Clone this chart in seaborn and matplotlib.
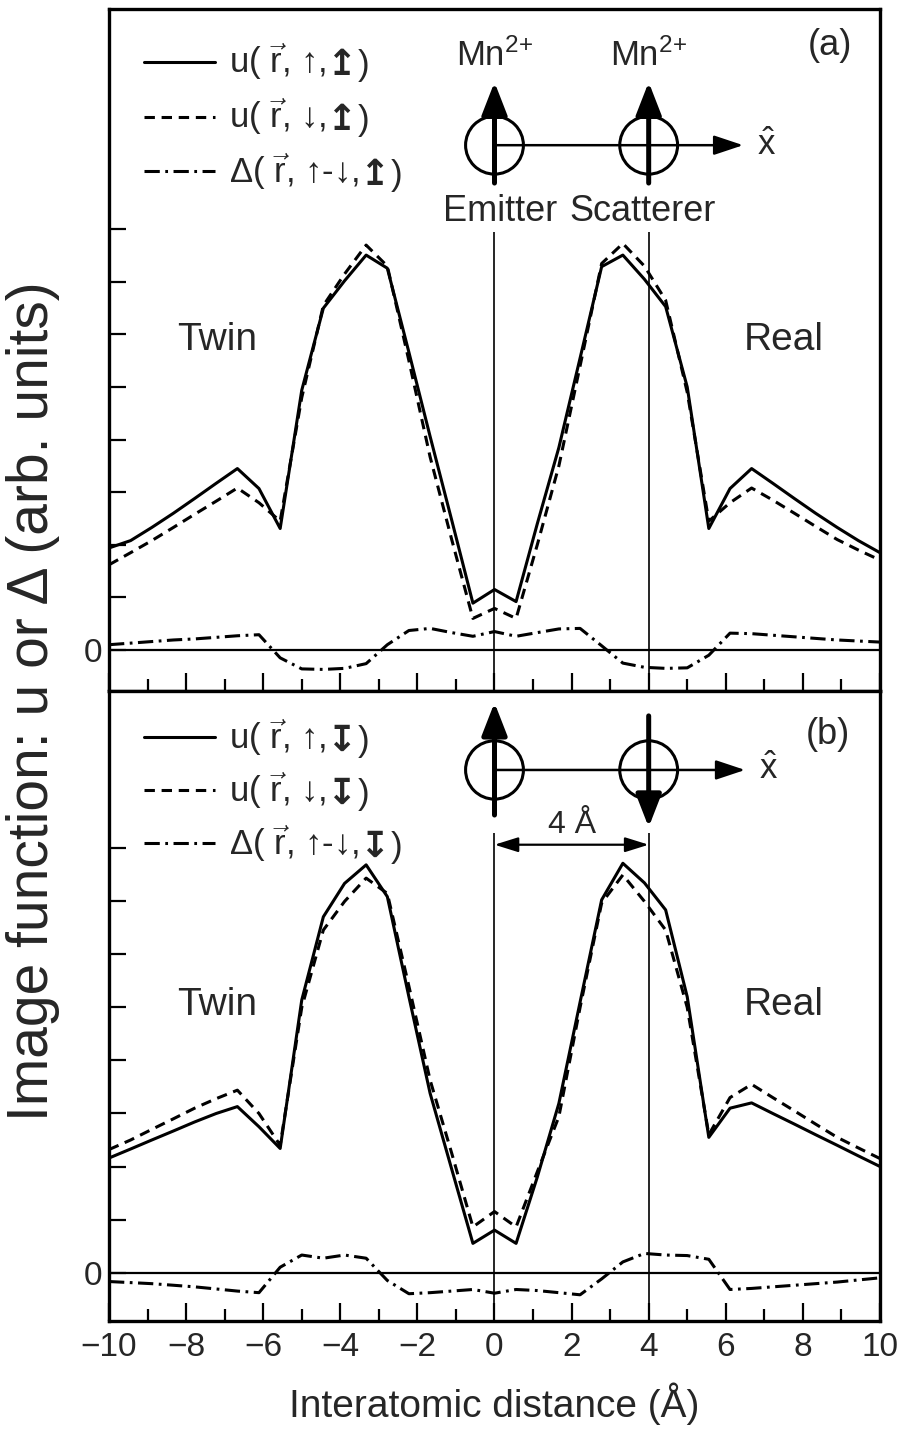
import numpy as np
import pandas as pd
import matplotlib
matplotlib.use("Agg")
import matplotlib.pyplot as plt
import seaborn as sns
from matplotlib.patches import Ellipse

sns.set_theme(style="ticks")
plt.rcParams['font.family'] = ['Liberation Sans', 'DejaVu Sans']
plt.rcParams['mathtext.fontset'] = 'custom'
plt.rcParams['mathtext.rm'] = 'Liberation Sans'
plt.rcParams['mathtext.it'] = 'Liberation Sans:italic'
plt.rcParams['mathtext.bf'] = 'Liberation Sans:bold'
plt.rcParams['axes.unicode_minus'] = True

# ---------------- data ----------------
distance = [-10.00, -9.44, -8.89, -8.33, -7.78, -7.22, -6.67, -6.11, -5.56, -5.00,
            -4.44, -3.89, -3.33, -2.78, -2.22, -1.67, -1.11, -0.56, 0.00, 0.56,
            1.11, 1.67, 2.22, 2.78, 3.33, 3.89, 4.44, 5.00, 5.56, 6.11,
            6.67, 7.22, 7.78, 8.33, 8.89, 9.44, 10.00]

# panel (a): parallel spins
u_up_a = [1.94, 2.08, 2.33, 2.60, 2.88, 3.17, 3.45, 3.07, 2.31, 4.94,
          6.50, 7.02, 7.51, 7.26, 5.66, 4.06, 2.47, 0.89, 1.15, 0.92,
          2.40, 3.85, 5.55, 7.29, 7.51, 7.05, 6.53, 5.00, 2.31, 3.07,
          3.45, 3.17, 2.88, 2.60, 2.33, 2.08, 1.85]
u_dn_a = [1.62, 1.85, 2.08, 2.33, 2.58, 2.83, 3.08, 2.80, 2.45, 4.80,
          6.55, 7.15, 7.70, 7.30, 5.50, 3.67, 2.10, 0.60, 0.79, 0.60,
          2.00, 3.50, 5.40, 7.35, 7.73, 7.30, 6.65, 4.90, 2.45, 2.80,
          3.08, 2.85, 2.60, 2.35, 2.10, 1.90, 1.71]
delta_a = [0.10, 0.13, 0.16, 0.19, 0.21, 0.24, 0.27, 0.29, -0.15, -0.36,
           -0.37, -0.35, -0.26, 0.10, 0.37, 0.41, 0.33, 0.26, 0.35, 0.26,
           0.33, 0.40, 0.41, 0.08, -0.25, -0.33, -0.35, -0.34, -0.10, 0.32,
           0.31, 0.28, 0.25, 0.22, 0.19, 0.17, 0.15]

# panel (b): antiparallel spins
u_up_b = [2.16, 2.33, 2.50, 2.67, 2.84, 3.00, 3.13, 2.75, 2.34, 5.14,
          6.71, 7.34, 7.69, 7.09, 5.20, 3.38, 1.95, 0.55, 0.80, 0.55,
          1.80, 3.19, 5.10, 7.03, 7.72, 7.35, 6.84, 5.20, 2.55, 3.10,
          3.20, 3.00, 2.80, 2.60, 2.40, 2.20, 2.00]
u_dn_b = [2.32, 2.50, 2.70, 2.90, 3.10, 3.28, 3.44, 3.00, 2.40, 5.00,
          6.46, 7.00, 7.44, 7.15, 5.40, 3.63, 2.25, 0.86, 1.15, 0.86,
          1.90, 2.94, 5.00, 6.97, 7.50, 7.00, 6.46, 5.00, 2.60, 3.30,
          3.55, 3.30, 3.05, 2.80, 2.55, 2.35, 2.15]
delta_b = [-0.17, -0.19, -0.21, -0.24, -0.27, -0.31, -0.35, -0.38, 0.10, 0.33,
           0.27, 0.33, 0.27, -0.15, -0.40, -0.38, -0.35, -0.32, -0.39, -0.32,
           -0.34, -0.38, -0.42, -0.12, 0.20, 0.36, 0.33, 0.32, 0.25, -0.32,
           -0.30, -0.27, -0.24, -0.21, -0.18, -0.14, -0.10]

x_ticks = [-10, -8, -6, -4, -2, 0, 2, 4, 6, 8, 10]
x_tick_labels = ['\u221210', '\u22128', '\u22126', '\u22124', '\u22122', '0', '2', '4', '6', '8', '10']
# legend labels: (text before the bold spin arrow, bold spin arrow)
legend_a = [('u( $\\vec{\\mathrm{r}}$, \u2191,', '\u21a5'),
            ('u( $\\vec{\\mathrm{r}}$, \u2193,', '\u21a5'),
            ('\u0394( $\\vec{\\mathrm{r}}$, \u2191-\u2193,', '\u21a5')]
legend_b = [('u( $\\vec{\\mathrm{r}}$, \u2191,', '\u21a7'),
            ('u( $\\vec{\\mathrm{r}}$, \u2193,', '\u21a7'),
            ('\u0394( $\\vec{\\mathrm{r}}$, \u2191-\u2193,', '\u21a7')]

# ---------------- figure ----------------
fig = plt.figure(figsize=(9.07, 14.30), dpi=100)
ax_a = fig.add_axes([0.1202, 0.5168, 0.8500, 0.4769])
ax_b = fig.add_axes([0.1202, 0.0762, 0.8500, 0.4406])

LW = 2.2
line_styles = ['-', (0, (3.4, 2.2)), (0, (5.0, 1.8, 0.9, 1.8))]
LEG_FS = 25


def draw_panel(ax, up, dn, delta, ylim, labels, leg_rows, show_xlabels):
    for series, ls in zip([up, dn, delta], line_styles):
        sns.lineplot(x=distance, y=series, ax=ax, color='black', lw=LW,
                     linestyle=ls, legend=False)
    ax.axhline(0, color='black', lw=1.6, zorder=1)
    ax.set_xlim(-10, 10)
    ax.set_ylim(*ylim)
    ax.set_xticks(x_ticks)
    ax.set_xticks(range(-9, 10, 2), minor=True)
    ax.set_yticks(range(0, 9))
    ax.set_yticklabels(['0'] + [''] * 8, fontsize=24)
    if show_xlabels:
        ax.set_xticklabels(x_tick_labels, fontsize=24)
    else:
        ax.set_xticklabels([])
    ax.tick_params(axis='x', which='major', direction='in', length=13, width=1.6,
                   bottom=True, top=False, pad=8, color='black')
    ax.tick_params(axis='x', which='minor', direction='in', length=8.5, width=1.6,
                   bottom=True, top=False, color='black')
    ax.tick_params(axis='y', which='major', direction='in', length=12, width=1.6,
                   left=True, right=False, pad=5, color='black')
    for sp in ax.spines.values():
        sp.set_visible(True)
        sp.set_linewidth(2.4)
        sp.set_color('black')
    ax.set_xlabel('')
    ax.set_ylabel('')
    # legend drawn as keys + text
    for (yrow, (lab, spin), ls) in zip(leg_rows, labels, line_styles):
        ax.plot([-9.10, -7.25], [yrow, yrow], color='black', lw=LW, linestyle=ls)
        t1 = ax.text(-6.90, yrow, lab, fontsize=LEG_FS, va='center', ha='left')
        t2 = ax.annotate(spin, xy=(1, 0.42), xycoords=t1, xytext=(1, 0),
                         textcoords='offset points', fontsize=LEG_FS + 1,
                         fontweight='bold', family='DejaVu Sans',
                         va='center', ha='left')
        ax.annotate(')', xy=(1, 0), xycoords=(t2, t1), xytext=(0.5, 0),
                    textcoords='offset points', fontsize=LEG_FS,
                    va='bottom', ha='left')


draw_panel(ax_a, u_up_a, u_dn_a, delta_a, (-0.78, 12.19), legend_a,
           [11.19, 10.14, 9.10], False)
draw_panel(ax_b, u_up_b, u_dn_b, delta_b, (-0.915, 10.97), legend_b,
           [10.10, 9.10, 8.10], True)

ax_b.set_xlabel('Interatomic distance (\u00c5)', fontsize=28, labelpad=14)
fig.text(0.036, 0.51, 'Image function: u or \u0394 (arb. units)', rotation=90,
         fontsize=41, ha='center', va='center')

# ---------------- annotations panel (a) ----------------
thick = dict(arrowstyle='-|>,head_length=0.9,head_width=0.35', lw=3.6,
             color='black', shrinkA=0, shrinkB=0, mutation_scale=22)
thin = dict(arrowstyle='-|>,head_length=0.9,head_width=0.3', lw=1.8,
            color='black', shrinkA=0, shrinkB=0, mutation_scale=20)

ax_a.vlines([0, 4], -0.78, 7.95, color='black', lw=1.2)
for xc in [0, 4]:
    ax_a.add_patch(Ellipse((xc, 9.60), 1.50, 1.10, fill=False, lw=2.2, color='black'))
    ax_a.annotate('', xy=(xc, 10.80), xytext=(xc, 8.88), arrowprops=thick)
    ax_a.text(xc, 11.30, 'Mn$^{2{+}}$', fontsize=25, ha='center', va='center')
ax_a.annotate('', xy=(6.45, 9.60), xytext=(0, 9.60), arrowprops=thin)
ax_a.text(7.05, 9.60, '$\\hat{\\mathrm{x}}$', fontsize=25, ha='center', va='center')
ax_a.text(0.15, 8.33, 'Emitter', fontsize=26, ha='center', va='center')
ax_a.text(3.85, 8.33, 'Scatterer', fontsize=26, ha='center', va='center')
ax_a.text(8.70, 11.50, '(a)', fontsize=26, ha='center', va='center')
ax_a.text(-7.20, 5.90, 'Twin', fontsize=28, ha='center', va='center')
ax_a.text(7.50, 5.90, 'Real', fontsize=28, ha='center', va='center')

# ---------------- annotations panel (b) ----------------
ax_b.vlines([0, 4], -0.915, 8.29, color='black', lw=1.2)
for xc in [0, 4]:
    ax_b.add_patch(Ellipse((xc, 9.48), 1.50, 1.10, fill=False, lw=2.2, color='black'))
ax_b.annotate('', xy=(0, 10.75), xytext=(0, 8.63), arrowprops=thick)
ax_b.annotate('', xy=(4, 8.40), xytext=(4, 10.50), arrowprops=thick)
ax_b.annotate('', xy=(6.50, 9.48), xytext=(0, 9.48), arrowprops=thin)
ax_b.text(7.10, 9.48, '$\\hat{\\mathrm{x}}$', fontsize=25, ha='center', va='center')
ax_b.annotate('', xy=(4, 8.07), xytext=(0, 8.07),
              arrowprops=dict(arrowstyle='<|-|>,head_length=0.8,head_width=0.25', lw=1.6,
                              color='black', shrinkA=0, shrinkB=0, mutation_scale=18))
ax_b.text(2.0, 8.45, '4 \u00c5', fontsize=23, ha='center', va='center')
ax_b.text(8.65, 10.14, '(b)', fontsize=26, ha='center', va='center')
ax_b.text(-7.20, 5.05, 'Twin', fontsize=28, ha='center', va='center')
ax_b.text(7.50, 5.05, 'Real', fontsize=28, ha='center', va='center')

fig.savefig('out.png', dpi=100)
